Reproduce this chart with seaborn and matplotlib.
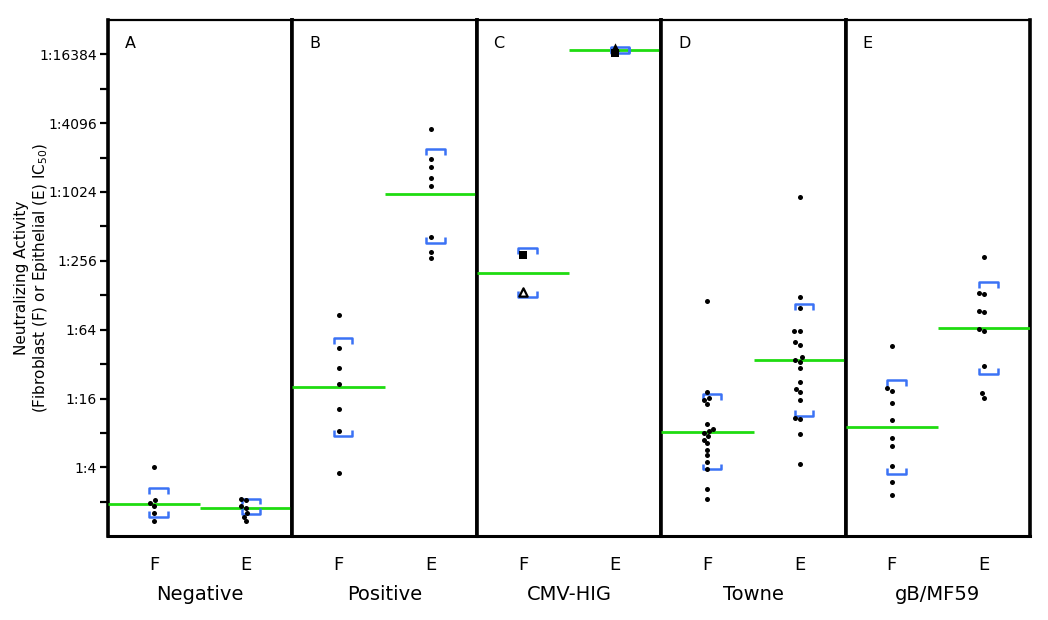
import numpy as np
import pandas as pd
import matplotlib
matplotlib.use("Agg")
import matplotlib.pyplot as plt
from matplotlib.ticker import FixedLocator, NullFormatter
import seaborn as sns

# reciprocal IC50 titers
panels = ["Negative", "Positive", "CMV-HIG", "Towne", "gB/MF59"]
letters = ["A", "B", "C", "D", "E"]
cells = ["F", "E"]

neg_f = [4.0, 2.06, 1.97, 1.85, 1.61, 1.35]
neg_e = [2.14, 2.06, 1.85, 1.78, 1.61, 1.48, 1.35]
pos_f = [85.6, 44.3, 29.4, 21.6, 12.9, 8.3, 3.6]
pos_e = [3615, 1978, 1710, 1351, 1144, 413, 304, 271]
hig_f_square = [286]
hig_f_triangle = [138]
hig_e_square = [16950]
hig_e_triangle = [18820]
towne_f = [115, 18.1, 16.3, 15.5, 14.3, 9.6, 8.3, 8.6, 8.0, 7.5, 7.0, 6.5, 5.7,
           5.1, 4.5, 3.9, 2.6, 2.1]
towne_e = [929, 123, 100, 62, 62, 50, 47.5, 36.8, 34.8, 33.6, 29.4, 22.5, 19.3,
           18.1, 15.6, 10.9, 10.6, 7.9, 4.3]
gb_f = [45.9, 19.6, 18.6, 14.6, 10.3, 7.2, 6.2, 4.1, 3.0, 2.3]
gb_e = [276, 133, 132, 94, 91, 65, 62, 31, 17.8, 16.3]

# geometric means and 95% CI bounds per panel, [F, E]
gmean = [[1.93, 1.78], [20.1, 989], [201, 17800], [8.1, 34.8], [9.0, 65.8]]
ci_upper = [[2.62, 2.14], [53.8, 2419], [333, 19080], [17.5, 108], [23.4, 167]]
ci_lower = [[1.48, 1.58], [7.5, 367], [124, 16840], [3.84, 11.3], [3.53, 26.5]]

ytick_vals = [4, 16, 64, 256, 1024, 4096, 16384]
ytick_labels = ["1:4", "1:16", "1:64", "1:256", "1:1024", "1:4096", "1:16384"]
yminor_vals = [2, 8, 32, 128, 512, 2048, 8192]

GREEN = "#1fdc10"
BLUE = "#3b72f5"

rows = []
for panel, f_vals, e_vals in [("Negative", neg_f, neg_e), ("Positive", pos_f, pos_e),
                              ("Towne", towne_f, towne_e), ("gB/MF59", gb_f, gb_e)]:
    rows += [(panel, "F", v) for v in f_vals]
    rows += [(panel, "E", v) for v in e_vals]
df = pd.DataFrame(rows, columns=["panel", "cell", "titer"])

hig = pd.DataFrame({
    "cell": ["F", "F", "E", "E"],
    "titer": hig_f_square + hig_f_triangle + hig_e_square + hig_e_triangle,
    "marker": ["square", "triangle", "square", "triangle"],
})

sns.set_style("white")
plt.rcParams["font.family"] = ["DejaVu Sans"]
plt.rcParams["text.color"] = "black"
plt.rcParams["axes.labelcolor"] = "black"
plt.rcParams["xtick.color"] = "black"
plt.rcParams["ytick.color"] = "black"

fig, axes = plt.subplots(1, 5, figsize=(10.48, 6.2), dpi=100, sharey=True)
fig.subplots_adjust(left=0.103, right=0.983, top=0.968, bottom=0.135, wspace=0)


def draw_bracket(ax, x, y, up):
    hw = 0.1
    cap = 2 ** (-0.17 if up else 0.17)
    ax.plot([x - hw, x - hw, x + hw, x + hw], [y * cap, y, y, y * cap],
            color=BLUE, lw=1.8, solid_capstyle="butt", zorder=4)


for i, ax in enumerate(axes):
    panel = panels[i]
    if panel == "CMV-HIG":
        sns.stripplot(data=hig[hig["marker"] == "square"], x="cell", y="titer",
                      order=cells, jitter=False, marker="s", size=5.5,
                      color="black", log_scale=2, ax=ax, zorder=5)
        tri = hig[hig["marker"] == "triangle"]
        sns.stripplot(data=tri[tri["cell"] == "F"], x="cell", y="titer",
                      order=cells, jitter=False, marker="^", size=6,
                      color="white", edgecolor="black", linewidth=1.6,
                      ax=ax, zorder=5)
        sns.stripplot(data=tri[tri["cell"] == "E"], x="cell", y="titer",
                      order=cells, jitter=False, marker="^", size=6,
                      color="black", ax=ax, zorder=5)
    else:
        sns.swarmplot(data=df[df["panel"] == panel], x="cell", y="titer",
                      order=cells, size=3.6, color="black", log_scale=2,
                      ax=ax, zorder=5)

    for j in range(2):
        ax.hlines(gmean[i][j], j - 0.5, j + 0.5, color=GREEN, lw=2, zorder=3)
        draw_bracket(ax, j + 0.05, ci_upper[i][j], up=True)
        draw_bracket(ax, j + 0.05, ci_lower[i][j], up=False)

    ax.set_xlim(-0.5, 1.5)
    ax.set_ylim(1, 2 ** 15)
    ax.set_xticks([0, 1])
    ax.set_xticklabels(cells, fontsize=13)
    ax.xaxis.set_minor_locator(FixedLocator([0.5]))
    ax.tick_params(axis="x", which="major", length=0, pad=14)
    ax.tick_params(axis="x", which="minor", length=7, width=2, direction="out",
                   color="black")
    ax.set_xlabel(panel, fontsize=14, labelpad=8)
    ax.set_ylabel("")
    ax.text(0.09, 0.955, letters[i], transform=ax.transAxes, fontsize=11.5,
            va="center", ha="left")

    for side in ["left", "right"]:
        ax.spines[side].set_linewidth(2.6)
    ax.spines["top"].set_linewidth(1.6)
    ax.spines["bottom"].set_linewidth(2.2)
    for sp in ax.spines.values():
        sp.set_color("black")
        sp.set_visible(True)

ax0 = axes[0]
ax0.yaxis.set_major_locator(FixedLocator(ytick_vals))
ax0.yaxis.set_minor_locator(FixedLocator(yminor_vals))
ax0.yaxis.set_minor_formatter(NullFormatter())
ax0.set_yticklabels(ytick_labels, fontsize=10)
ax0.tick_params(axis="y", which="both", left=True, length=6, width=1.6,
                direction="out", color="black", pad=2)
for ax in axes[1:]:
    ax.tick_params(axis="y", which="both", left=False, length=0)
ax0.set_ylabel("Neutralizing Activity\n(Fibroblast (F) or Epithelial (E) IC$_{50}$)",
               fontsize=11, linespacing=1.1)
ax0.yaxis.set_label_coords(-0.315, 0.5)

fig.savefig("out.png", dpi=100)
